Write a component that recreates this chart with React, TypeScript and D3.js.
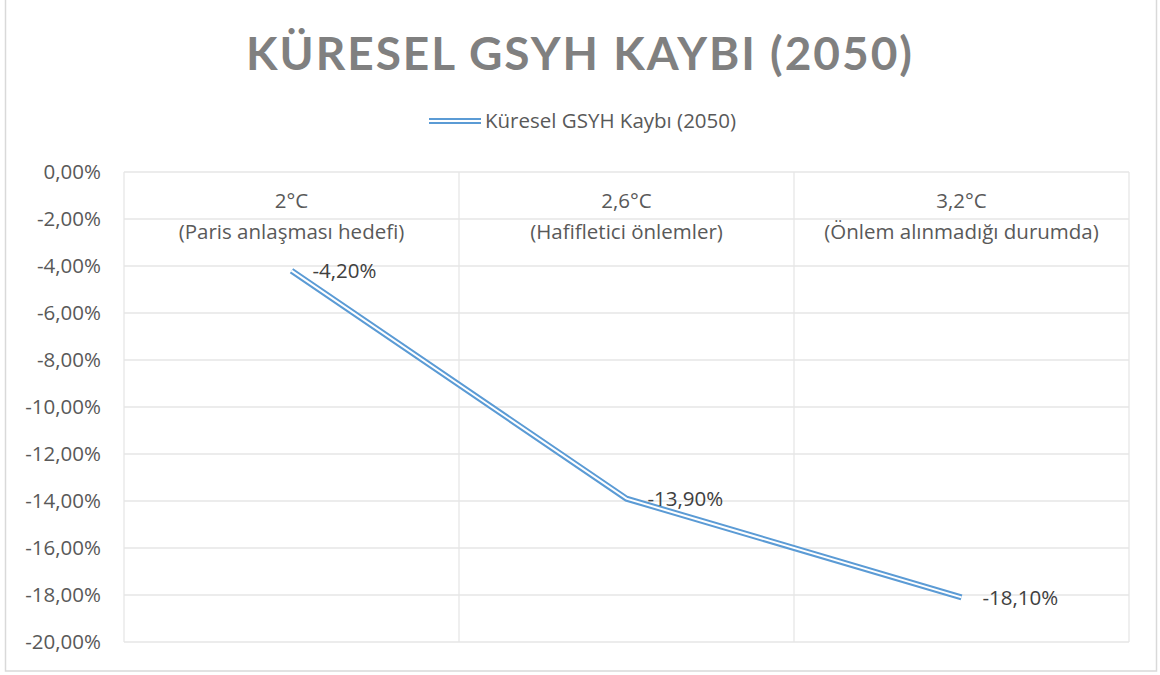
import React from 'react';
import * as d3 from 'd3';

// data
const categories = ['2°C', '2,6°C', '3,2°C'];
const subLabels = ['(Paris anlaşması hedefi)', '(Hafifletici önlemler)', '(Önlem alınmadığı durumda)'];
const gdpLoss = [-4.2, -13.9, -18.1];
const yTicks = [0, -2, -4, -6, -8, -10, -12, -14, -16, -18, -20];
const seriesName = 'Küresel GSYH Kaybı (2050)';

const width = 1160;
const height = 675;
const margin = { top: 172, right: 31, bottom: 33, left: 124 };
const font = '"Open Sans", sans-serif';
const titleFont = 'Lato, "Open Sans", sans-serif';
const blue = '#5b9bd5';
const fs = 20.5;

const fmt = (v: number) => v.toFixed(2).replace('.', ',') + '%';

export default function App() {
    const x = d3.scaleBand<string>()
        .domain(categories)
        .range([margin.left, width - margin.right]);

    const y = d3.scaleLinear()
        .domain([0, -20])
        .range([margin.top, height - margin.bottom]);

    const line = d3.line<number>()
        .x((d, i) => x(categories[i])! + x.bandwidth() / 2)
        .y(d => y(d));

    const path = line(gdpLoss) || '';

    return (
        <svg width={width} height={height} style={{ position: 'absolute', left: 0, top: 0 }}>
            <rect x={0} y={0} width={width} height={height} fill='#fff' />
            <rect x={5.5} y={-1} width={1151} height={672} fill='#fff' stroke='#d9d9d9' strokeWidth={1.5} />

            <text x={579} y={70} textAnchor='middle' fontFamily={titleFont} fontWeight={700} fontSize={46}
                fill='#808080' textLength={666} lengthAdjust='spacing'>
                KÜRESEL GSYH KAYBI (2050)
            </text>

            {/* legend */}
            <g>
                <line x1={429} x2={481} y1={121} y2={121} stroke={blue} strokeWidth={6} />
                <line x1={429} x2={481} y1={121} y2={121} stroke='#fff' strokeWidth={2} />
                <text x={485} y={121} dy='0.35em' fontFamily={font} fontSize={fs} fill='#595959'>{seriesName}</text>
            </g>

            {/* horizontal gridlines */}
            {yTicks.map(t => (
                <line key={'h' + t} x1={margin.left} x2={width - margin.right} y1={y(t)} y2={y(t)}
                    stroke='#e6e6e6' strokeWidth={1.3} />
            ))}
            {/* vertical category gridlines */}
            {categories.map(c => (
                <line key={'v' + c} x1={x(c)} x2={x(c)} y1={margin.top} y2={height - margin.bottom}
                    stroke='#e6e6e6' strokeWidth={1.3} />
            ))}
            <line x1={width - margin.right} x2={width - margin.right} y1={margin.top} y2={height - margin.bottom}
                stroke='#e6e6e6' strokeWidth={1.3} />

            {/* y axis labels */}
            {yTicks.map(t => (
                <text key={'t' + t} x={101} y={y(t)} dy='0.35em' textAnchor='end' fontFamily={font}
                    fontSize={fs} fill='#595959'>{fmt(t)}</text>
            ))}

            {/* category labels */}
            {categories.map((c, i) => (
                <g key={'c' + c} fontFamily={font} fontSize={fs} fill='#595959' textAnchor='middle'>
                    <text x={x(c)! + x.bandwidth() / 2} y={201} dy='0.35em'>{c}</text>
                    <text x={x(c)! + x.bandwidth() / 2} y={232} dy='0.35em'>{subLabels[i]}</text>
                </g>
            ))}

            {/* double line */}
            <path d={path} fill='none' stroke={blue} strokeWidth={6} />
            <path d={path} fill='none' stroke='#fff' strokeWidth={2} />

            {/* data labels */}
            {gdpLoss.map((v, i) => (
                <text key={'d' + i} x={x(categories[i])! + x.bandwidth() / 2 + 21} y={y(v)} dy='0.35em'
                    fontFamily={font} fontSize={fs} fill='#404040'>{fmt(v)}</text>
            ))}
        </svg>
    );
}
